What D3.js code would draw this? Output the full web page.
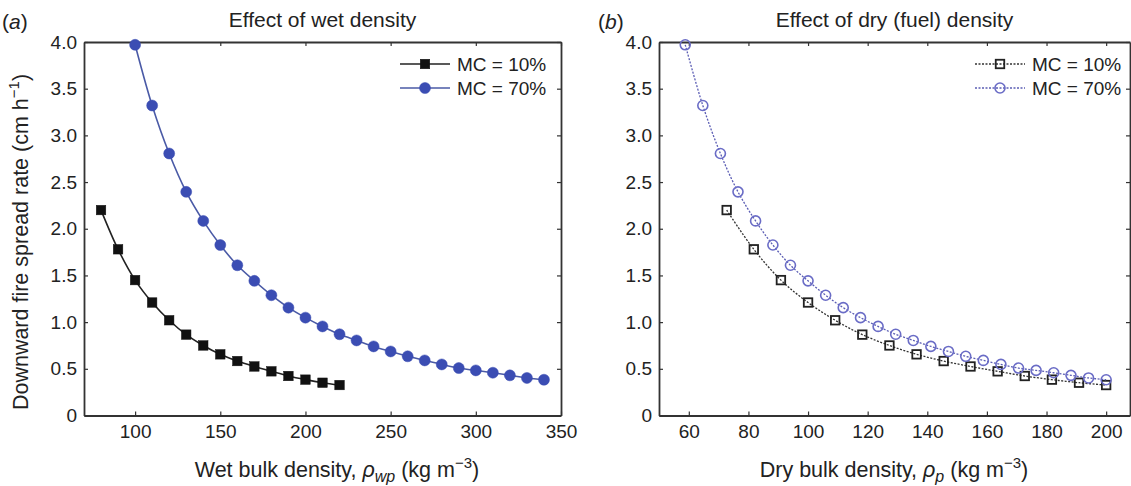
<!DOCTYPE html>
<html>
<head>
<meta charset="utf-8">
<script src="https://cdn.jsdelivr.net/npm/d3@7"></script>
<style>
  body { margin: 0; background: #fff; }
  text { font-family: "Liberation Sans", Arial, sans-serif; fill: #222; }
</style>
</head>
<body>
<div id="chart"></div>
<script>
// wet bulk density (kg m-3), panel a
var wetMC10 = [80, 90, 100, 110, 120, 130, 140, 150, 160, 170, 180, 190, 200, 210, 220];
var wetMC70 = [100, 110, 120, 130, 140, 150, 160, 170, 180, 190, 200, 210, 220, 230, 240,
               250, 260, 270, 280, 290, 300, 310, 320, 330, 340];

// dry bulk density (kg m-3), panel b
var dryMC10 = [72.7, 81.8, 90.9, 100, 109.1, 118.2, 127.3, 136.4, 145.5, 154.5, 163.6, 172.7, 181.8, 190.9, 200];
var dryMC70 = [58.8, 64.7, 70.6, 76.5, 82.4, 88.2, 94.1, 100, 105.9, 111.8, 117.6, 123.5, 129.4, 135.3, 141.2,
               147.1, 152.9, 158.8, 164.7, 170.6, 176.5, 182.4, 188.2, 194.1, 200];

// downward fire spread rate (cm h-1)
var rateMC10 = [2.2, 1.78, 1.45, 1.21, 1.02, 0.866, 0.75, 0.655, 0.583, 0.525, 0.473, 0.423, 0.384, 0.351, 0.326];
var rateMC70 = [3.97, 3.32, 2.806, 2.395, 2.084, 1.826, 1.609, 1.442, 1.288, 1.155, 1.048, 0.954, 0.87, 0.804, 0.74,
                0.686, 0.634, 0.59, 0.547, 0.508, 0.483, 0.458, 0.43, 0.402, 0.383];

var yTicks = [0, 0.5, 1.0, 1.5, 2.0, 2.5, 3.0, 3.5, 4.0];
var xTicksWet = [100, 150, 200, 250, 300, 350];
var xTicksDry = [60, 80, 100, 120, 140, 160, 180, 200];

var W = 1131, H = 486;
var svg = d3.select("#chart").append("svg")
  .attr("width", W).attr("height", H);

var black = "#111", blue = "#3b4db3", blueLight = "#6a6cc6";

function drawPanel(opt) {
  var x = d3.scaleLinear().domain(opt.xDomain).range([opt.left, opt.right]);
  var y = d3.scaleLinear().domain([0, 4]).range([opt.bottom, opt.top]);
  var g = svg.append("g");

  // axes, ticks pointing inward
  g.append("g").attr("transform", "translate(0," + opt.bottom + ")")
    .call(d3.axisBottom(x).tickValues(opt.xTicks).tickSize(-4).tickSizeOuter(0).tickPadding(9));
  g.append("g").attr("transform", "translate(0," + opt.top + ")")
    .call(d3.axisTop(x).tickValues(opt.xTicks).tickSize(-4).tickSizeOuter(0).tickFormat(""));
  g.append("g").attr("transform", "translate(" + opt.left + ",0)")
    .call(d3.axisLeft(y).tickValues(yTicks).tickSize(-4).tickSizeOuter(0).tickPadding(7)
      .tickFormat(function(d) { return d === 0 ? "0" : d3.format(".1f")(d); }));
  g.append("g").attr("transform", "translate(" + opt.right + ",0)")
    .call(d3.axisRight(y).tickValues(yTicks).tickSize(-4).tickSizeOuter(0).tickFormat(""));

  g.selectAll(".domain").attr("stroke", "#333").attr("stroke-width", 1.8);
  g.selectAll(".tick line").attr("stroke", "#333").attr("stroke-width", 1.2);
  g.selectAll(".tick text").attr("font-size", 19).attr("fill", "#222")
    .attr("font-family", "Liberation Sans, Arial, sans-serif");

  // title
  g.append("text").attr("x", (opt.left + opt.right) / 2).attr("y", 27)
    .attr("text-anchor", "middle").attr("font-size", 21).text(opt.title);

  // panel letter
  var pl = g.append("text").attr("x", opt.letterX).attr("y", 29).attr("font-size", 21);
  pl.append("tspan").text("(");
  pl.append("tspan").attr("font-style", "italic").text(opt.letter);
  pl.append("tspan").text(")");

  // x label
  var xl = g.append("text").attr("x", opt.xLabelX).attr("y", 477)
    .attr("text-anchor", "middle").attr("font-size", 21.5);
  xl.append("tspan").text(opt.xLabel + ", ");
  xl.append("tspan").attr("font-style", "italic").text("\u03C1");
  xl.append("tspan").attr("font-style", "italic").attr("font-size", 16).attr("dy", 5).text(opt.sub);
  xl.append("tspan").attr("dy", -5).text(" (kg m");
  xl.append("tspan").attr("font-size", 15).attr("dy", -9).text("\u22123");
  xl.append("tspan").attr("dy", 9).text(")");

  var line = d3.line().x(function(d) { return x(d[0]); }).y(function(d) { return y(d[1]); })
    .curve(d3.curveCatmullRom);

  opt.series.forEach(function(s) {
    var pts = d3.zip(s.xs, s.ys);
    g.append("path").datum(pts).attr("fill", "none")
      .attr("stroke", s.lineColor).attr("stroke-width", s.lineWidth)
      .attr("stroke-dasharray", s.dash).attr("d", line);
    drawMarkers(g, pts.map(function(p) { return [x(p[0]), y(p[1])]; }), s);
  });

  // legend
  opt.series.forEach(function(s, i) {
    var ly = 64 + i * 24;
    g.append("line").attr("x1", opt.legX).attr("x2", opt.legX + 50)
      .attr("y1", ly).attr("y2", ly).attr("stroke", s.lineColor)
      .attr("stroke-width", s.lineWidth).attr("stroke-dasharray", s.dash);
    drawMarkers(g, [[opt.legX + 25, ly]], s);
    g.append("text").attr("x", opt.legX + 57).attr("y", ly + 7)
      .attr("font-size", 19).text("MC = " + s.name);
  });
}

function drawMarkers(g, pts, s) {
  if (s.shape === "square") {
    g.selectAll(null).data(pts).enter().append("rect")
      .attr("x", function(d) { return d[0] - s.size / 2; })
      .attr("y", function(d) { return d[1] - s.size / 2; })
      .attr("width", s.size).attr("height", s.size)
      .attr("fill", s.fill).attr("stroke", s.markColor).attr("stroke-width", s.strokeW);
  } else {
    g.selectAll(null).data(pts).enter().append("circle")
      .attr("cx", function(d) { return d[0]; })
      .attr("cy", function(d) { return d[1]; })
      .attr("r", s.size / 2)
      .attr("fill", s.fill).attr("stroke", s.markColor).attr("stroke-width", s.strokeW);
  }
}

drawPanel({
  left: 84, right: 561, top: 42, bottom: 415.5,
  xDomain: [70, 350], xTicks: xTicksWet,
  title: "Effect of wet density", letter: "a", letterX: 2,
  xLabel: "Wet bulk density", sub: "wp", xLabelX: 337,
  legX: 400,
  series: [
    { name: "10%", xs: wetMC10, ys: rateMC10, shape: "square", size: 9.5, fill: black,
      markColor: black, strokeW: 0.5, lineColor: "#222", lineWidth: 1.6, dash: null },
    { name: "70%", xs: wetMC70, ys: rateMC70, shape: "circle", size: 11, fill: blue,
      markColor: blue, strokeW: 0.5, lineColor: "#4a5aa6", lineWidth: 1.6, dash: null }
  ]
});

drawPanel({
  left: 659, right: 1130, top: 42, bottom: 415.5,
  xDomain: [50, 208], xTicks: xTicksDry,
  title: "Effect of dry (fuel) density", letter: "b", letterX: 598,
  xLabel: "Dry bulk density", sub: "p", xLabelX: 894,
  legX: 975,
  series: [
    { name: "10%", xs: dryMC10, ys: rateMC10, shape: "square", size: 8.5, fill: "none",
      markColor: "#222", strokeW: 1.8, lineColor: "#333", lineWidth: 1.3, dash: "2,1.5" },
    { name: "70%", xs: dryMC70, ys: rateMC70, shape: "circle", size: 10, fill: "none",
      markColor: blueLight, strokeW: 1.6, lineColor: "#5b5db4", lineWidth: 1.3, dash: "2,1.5" }
  ]
});

// shared y label
var yl = svg.append("text").attr("transform", "translate(28,242) rotate(-90)")
  .attr("text-anchor", "middle").attr("font-size", 21.5);
yl.append("tspan").text("Downward fire spread rate (cm h");
yl.append("tspan").attr("font-size", 15).attr("dy", -9).text("\u22121");
yl.append("tspan").attr("dy", 9).text(")");
</script>
</body>
</html>
